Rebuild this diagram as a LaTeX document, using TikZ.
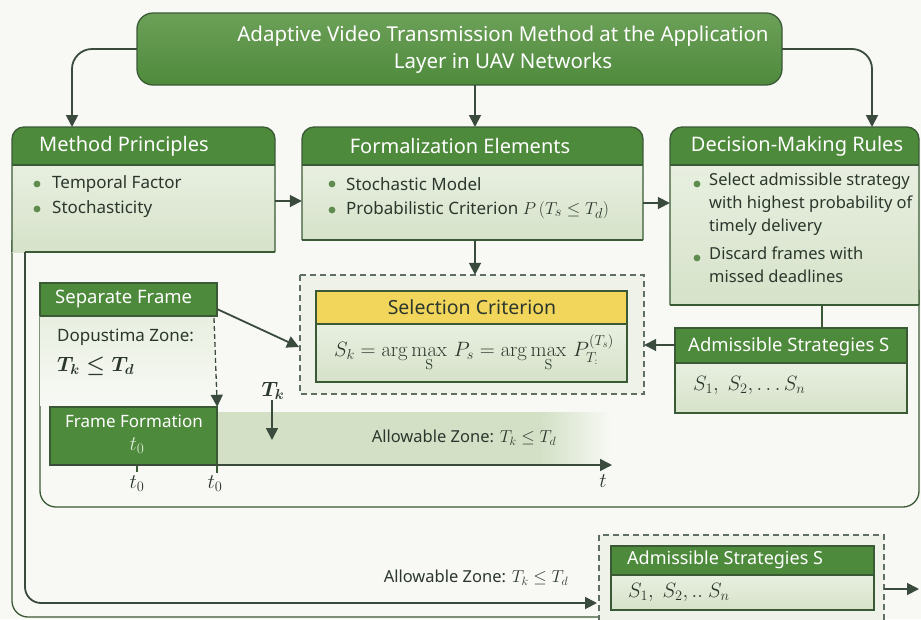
\documentclass[tikz,border=0pt]{standalone}
\usepackage{amsmath}
\usepackage[no-math]{fontspec}
\setmainfont{Noto Sans}
\usetikzlibrary{arrows.meta,fit,calc}

\definecolor{hdrA}{HTML}{4E8A3C}
\definecolor{hdrB}{HTML}{6CA058}
\definecolor{edge}{HTML}{3A5A35}
\definecolor{bodyA}{HTML}{E8EFE0}
\definecolor{bodyB}{HTML}{D6E2C9}
\definecolor{ink}{HTML}{2B372C}
\definecolor{arrowc}{HTML}{3A4A3C}
\definecolor{dotc}{HTML}{5E8C4E}
\definecolor{yel}{HTML}{F2D65C}
\definecolor{bg}{HTML}{F8F9F5}
\definecolor{band}{HTML}{D3E0C6}
\definecolor{lightdash}{HTML}{EEF2E8}

% box with a green header and rounded top corners (fill and top outline)
\newcommand\greenbox[6]{%
  \shade[top color=bodyA,bottom color=bodyB] (#2,#6) rectangle (#4,#5);
  \fill[hdrA,rounded corners=12] (#2,#3) rectangle (#4,#6);
  \fill[hdrA] (#2,#6-14) rectangle (#4,#6);
  \draw[edge,line width=1.3pt,rounded corners=12] (#2,#5) -- (#2,#3) -- (#4,#3) -- (#4,#5);
  \draw[edge,line width=1.1pt] (#2,#6) -- (#4,#6);
  \node[fit={(#2,#3) (#4,#5)},inner sep=0] (#1) {};
}
% square box with header band
\newcommand\flatbox[7]{%
  \shade[top color=bodyA,bottom color=bodyB] (#2,#6) rectangle (#4,#5);
  \fill[#7] (#2,#3) rectangle (#4,#6);
  \draw[edge,line width=1.3pt] (#2,#3) rectangle (#4,#5);
  \draw[edge,line width=1.1pt] (#2,#6) -- (#4,#6);
  \node[fit={(#2,#3) (#4,#5)},inner sep=0] (#1) {};
}

\begin{document}
\begin{tikzpicture}[x=1pt,y=-1pt,
  hdrtxt/.style={text=white,font=\fontsize{20}{24}\selectfont,inner sep=0},
  astxt/.style={text=white,font=\fontsize{18.5}{22}\selectfont,inner sep=0,anchor=west},
  bodytxt/.style={text=ink,font=\fontsize{17}{20}\selectfont,anchor=west,inner sep=0},
  smalltxt/.style={text=ink,font=\fontsize{16.5}{19}\selectfont,inner sep=0},
  conn/.style={arrowc,line width=1.8pt},
  tip/.style={-{Triangle[length=12pt,width=12pt]}},
  frameline/.style={edge,line width=1.3pt}]
\useasboundingbox (0,0) rectangle (921,619);
\fill[bg] (0,0) rectangle (921,619);

% ---------- title ----------
\shade[rounded corners=16,top color=hdrB,bottom color=hdrA] (137,13) rectangle (782,85);
\draw[edge,line width=1.3pt,rounded corners=16] (137,13) rectangle (782,85);
\node[fit={(137,13) (782,85)},inner sep=0] (ttl) {};
\node[hdrtxt,align=center,font=\fontsize{20.5}{27}\selectfont] at (503,50)
  {Adaptive Video Transmission Method at the Application\\Layer in UAV Networks};

% ---------- outer frame lines (drawn beneath the boxes) ----------
\draw[frameline,rounded corners=16] (12,240) -- (12,617) -- (598,617);
\draw[frameline,rounded corners=16] (40,316) -- (40,507) -- (919,507) -- (919,290);

% ---------- three top boxes ----------
\greenbox{mp}{12}{127}{275}{252}{165}
\draw[frameline] (25,252) -- (275,252);
\node[hdrtxt,anchor=west] at (39,146) {Method Principles};
\fill[dotc] (37,184) circle (3.4pt);
\node[bodytxt] at (52,184) {Temporal Factor};
\fill[dotc] (37,209) circle (3.4pt);
\node[bodytxt] at (52,209) {Stochasticity};

\greenbox{fe}{302}{127}{643}{240}{165}
\draw[frameline] (302,240) -- (643,240);
\node[hdrtxt] at (460,146) {Formalization Elements};
\fill[dotc] (332,184) circle (3.4pt);
\node[bodytxt] at (346,184) {Stochastic Model};
\fill[dotc] (332,210) circle (3.4pt);
\node[bodytxt] at (346,210) {Probabilistic Criterion {\fontsize{19}{20}\selectfont$P\,(T_s \le T_d)$}};

\greenbox{dr}{670}{127}{919}{305}{165}
\draw[frameline] (670,305) -- (919,305);
\node[hdrtxt] at (797,146) {Decision-Making Rules};
\fill[dotc] (697,184) circle (3.4pt);
\node[bodytxt,align=left,anchor=north west,font=\fontsize{16.5}{23}\selectfont] at (709,173)
  {Select admissible strategy\\with highest probability of\\timely delivery};
\fill[dotc] (697,258) circle (3.4pt);
\node[bodytxt,align=left,anchor=north west,font=\fontsize{16.5}{23}\selectfont] at (709,247)
  {Discard frames with\\missed deadlines};

% ---------- selection criterion ----------
\fill[lightdash] (300,275) rectangle (644,394);
\draw[arrowc!80,line width=1.1pt,dash pattern=on 6pt off 4pt] (300,275) rectangle (644,394);
\node[fit={(300,275) (644,394)},inner sep=0] (sc) {};
\flatbox{scin}{316}{291}{627}{382}{324}{yel}
\node[text=ink,font=\fontsize{19.5}{22}\selectfont,inner sep=0] at (472,307) {Selection Criterion};
\node[text=ink,inner sep=0,font=\fontsize{19.5}{22}\selectfont] at (474,353)
  {$S_k = \arg\max\limits_{\mathrm{S}}\, P_s = \arg\max\limits_{\mathrm{S}}\, P^{(T_s)}_{T_{:}}$};

% ---------- admissible strategies (right) ----------
\flatbox{as}{675}{328}{907}{413}{363}{hdrA}
\node[astxt] at (688,347) {Admissible Strategies S};
\node[text=ink,inner sep=0,anchor=west,font=\fontsize{20}{22}\selectfont] at (693,385) {$S_1,\ S_2,\ldots S_n$};

% ---------- separate frame ----------
\shade[top color=bodyA,bottom color=bg] (40,316) rectangle (214,405);
\fill[hdrA] (40,283) rectangle (217,316);
\draw[frameline] (40,316) -- (40,283) -- (217,283) -- (217,316) -- (40,316);
\node[fit={(40,283) (217,316)},inner sep=0] (sf) {};
\node[astxt] at (55,299) {Separate Frame};
\node[bodytxt] at (57,337) {Dopustima Zone:};
\node[text=ink,inner sep=0,anchor=west,font=\fontsize{22}{24}\selectfont] at (57,366) {$\boldsymbol{T_k \le T_d}$};

% ---------- timeline ----------
\fill[band] (217,412) rectangle (540,465);
\shade[left color=band,right color=bg] (540,412) rectangle (612,465);
\fill[hdrA] (50,407) rectangle (217,465);
\draw[edge,line width=1.1pt] (50,407) rectangle (217,465);
\node[fit={(50,407) (217,465)},inner sep=0] (ff) {};
\node[hdrtxt,font=\fontsize{17}{20}\selectfont] at (134,421) {Frame Formation};
\node[text=white!80!hdrA,inner sep=0,font=\fontsize{20}{22}\selectfont] at (137,446) {$t_0$};
\node[smalltxt] at (464,438) {Allowable Zone: {\fontsize{18.5}{20}\selectfont$T_k \le T_d$}};
\coordinate (axstart) at (50,465);
\coordinate (axend) at (612,465);
\draw[conn,tip,line width=1.6pt] (axstart) -- (axend);
\draw[edge,line width=1.1pt] (137,465) -- (137,472);
\draw[edge,line width=1.1pt] (217,465) -- (217,473);
\node[text=ink,inner sep=0,font=\fontsize{21}{22}\selectfont] at (137,484) {$t_0$};
\node[text=ink,inner sep=0,font=\fontsize{21}{22}\selectfont] at (215,484) {$t_0$};
\node[text=ink,inner sep=0,font=\fontsize{21}{22}\selectfont] at (603,481) {$t$};
\node[text=ink,inner sep=0,font=\fontsize{21}{22}\selectfont] (tk) at (273,391) {$\boldsymbol{T_k}$};
\coordinate (tkend) at (272,440);
\draw[conn,tip,line width=1.6pt] (tk.south -| tkend) -- (tkend);

% ---------- lower admissible strategies ----------
\fill[lightdash] (599,535) rectangle (884,630);
\draw[arrowc!80,line width=1.1pt,dash pattern=on 6pt off 4pt] (599,535) rectangle (884,630);
\node[fit={(599,535) (884,619)},inner sep=0] (lo) {};
\flatbox{las}{611}{546}{874}{610}{575}{hdrA}
\node[astxt,font=\fontsize{18}{22}\selectfont] at (627,560) {Admissible Strategies S};
\node[text=ink,inner sep=0,anchor=west,font=\fontsize{20}{22}\selectfont] at (628,592) {$S_1,\ S_2,..\ S_n$};
\node[smalltxt] at (476,578) {Allowable Zone: {\fontsize{18.5}{20}\selectfont$T_k \le T_d$}};
\coordinate (loout) at (919,589);
\draw[conn,tip] (lo.east |- loout) -- (loout);

% ---------- connectors ----------
\coordinate (mpin) at (72,127);
\coordinate (drin) at (872,127);
\coordinate (fein) at (475,127);
\draw[conn,tip,rounded corners=20] (ttl.west) -| (mpin);
\draw[conn,tip,rounded corners=20] (ttl.east) -| (drin);
\draw[conn,tip] (ttl.south -| fein) -- (fein);
\draw[conn,tip] (mp.east |- 0,201) -- (fe.west |- 0,201);
\draw[conn,tip] (fe.east |- 0,203) -- (dr.west |- 0,203);
\draw[conn,tip] (fe.south -| fein) -- (sc.north -| fein);
\draw[frameline] (dr.south -| 822,0) -- (as.north -| 822,0);
\draw[conn,tip] (as.west |- 0,345) -- (sc.east |- 0,345);
\coordinate (sfout) at (217,309);
\coordinate (scleft) at (299,347);
\draw[conn,tip] (sfout) -- (scleft);
\draw[conn,tip,line width=1.3pt,dash pattern=on 5pt off 3pt] (214,318) -- (ff.north east);
\coordinate (loin) at (597,603);
\draw[conn,tip,rounded corners=16] (25,252) -- (25,603) -- (loin);
\end{tikzpicture}
\end{document}
